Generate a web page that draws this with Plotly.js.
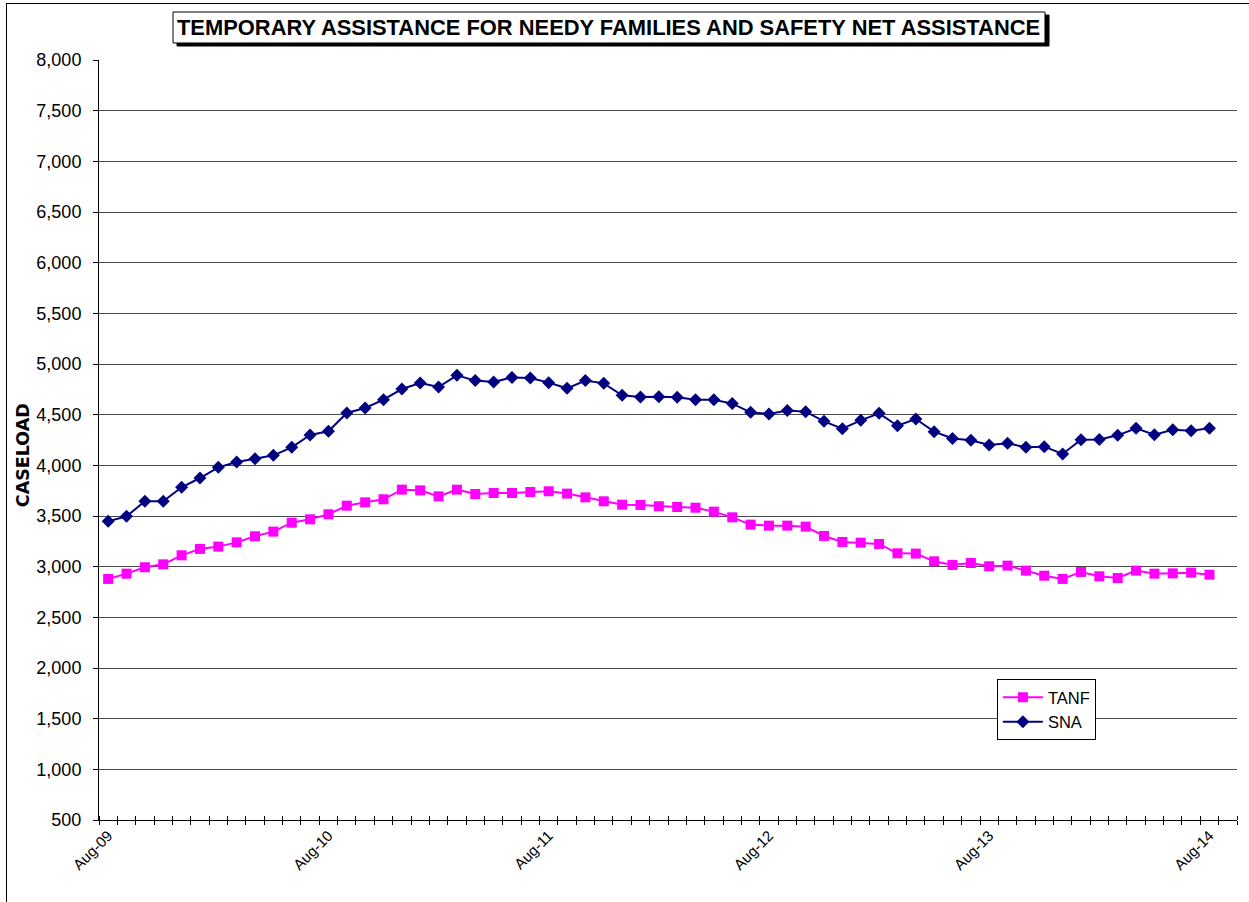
<!DOCTYPE html>
<html>
<head>
<meta charset="utf-8">
<script src="https://cdn.plot.ly/plotly-3.0.1.min.js"></script>
<style>
  html, body { margin: 0; padding: 0; background: #fff; }
  #chart { position: absolute; left: 0; top: 0; width: 1249px; height: 902px; }
  #frame { position: absolute; left: 6px; top: 3px; width: 1400px; height: 1100px;
           border: 1px solid #000; pointer-events: none; }
</style>
</head>
<body>
<div id="chart"></div>
<div id="frame"></div>
<script>
const months = [
  'Aug-09','Sep-09','Oct-09','Nov-09','Dec-09','Jan-10','Feb-10','Mar-10','Apr-10','May-10','Jun-10','Jul-10',
  'Aug-10','Sep-10','Oct-10','Nov-10','Dec-10','Jan-11','Feb-11','Mar-11','Apr-11','May-11','Jun-11','Jul-11',
  'Aug-11','Sep-11','Oct-11','Nov-11','Dec-11','Jan-12','Feb-12','Mar-12','Apr-12','May-12','Jun-12','Jul-12',
  'Aug-12','Sep-12','Oct-12','Nov-12','Dec-12','Jan-13','Feb-13','Mar-13','Apr-13','May-13','Jun-13','Jul-13',
  'Aug-13','Sep-13','Oct-13','Nov-13','Dec-13','Jan-14','Feb-14','Mar-14','Apr-14','May-14','Jun-14','Jul-14',
  'Aug-14','Sep-14'
];
const tanf = [
  2879, 2931, 2994, 3023, 3112, 3175, 3198, 3240, 3300, 3346, 3434, 3467,
  3517, 3602, 3635, 3665, 3760, 3753, 3694, 3760, 3717, 3727, 3727, 3737,
  3744, 3721, 3684, 3645, 3612, 3609, 3596, 3589, 3582, 3543, 3487, 3415,
  3405, 3405, 3395, 3303, 3244, 3237, 3224, 3132, 3129, 3053, 3017, 3036,
  3004, 3010, 2961, 2911, 2879, 2948, 2905, 2888, 2961, 2931, 2934, 2941,
  2921, null
];
const sna = [
  3447, 3497, 3645, 3645, 3783, 3875, 3980, 4033, 4066, 4099, 4178, 4299,
  4336, 4517, 4566, 4648, 4753, 4812, 4773, 4888, 4836, 4822, 4868, 4862,
  4816, 4760, 4836, 4809, 4691, 4674, 4678, 4671, 4648, 4648, 4609, 4523,
  4507, 4540, 4530, 4434, 4362, 4444, 4513, 4391, 4457, 4332, 4265, 4247,
  4201, 4217, 4178, 4184, 4112, 4253, 4256, 4296, 4365, 4303, 4352, 4342,
  4365, null
];
const labelEvery = 12;
const titleText = 'TEMPORARY ASSISTANCE FOR NEEDY FAMILIES AND SAFETY NET ASSISTANCE';
const yTitleText = 'CASELOAD';

const xIdx = months.map((m, i) => i);
const tickIdx = xIdx.filter(i => i % labelEvery === 0 && i < months.length - 1);
const FONT = 'Arial, "Liberation Sans", Helvetica, sans-serif';

const data = [
  {
    x: xIdx, y: tanf, name: 'TANF', type: 'scatter', mode: 'lines+markers',
    line: { color: '#FF00FF', width: 2 },
    marker: { symbol: 'square', size: 10, color: '#FF00FF' }
  },
  {
    x: xIdx, y: sna, name: 'SNA', type: 'scatter', mode: 'lines+markers',
    line: { color: '#000080', width: 2 },
    marker: { symbol: 'diamond', size: 10, color: '#000080' }
  },
  { x: [], y: [], xaxis: 'x2', showlegend: false, hoverinfo: 'skip', type: 'scatter' }
];

const layout = {
  width: 1249, height: 902,
  margin: { l: 99, r: 12, t: 60, b: 82 },
  paper_bgcolor: '#fff', plot_bgcolor: '#fff',
  font: { family: FONT, color: '#000' },
  showlegend: true,
  legend: {
    x: 0.789, y: 0.1855, xanchor: 'left', yanchor: 'top',
    bgcolor: '#fff', bordercolor: '#000', borderwidth: 1,
    font: { family: FONT, size: 16.5, color: '#000' },
    itemwidth: 40
  },
  xaxis: {
    type: 'linear', range: [-0.5, months.length - 0.5],
    tickmode: 'array', tickvals: tickIdx, ticktext: tickIdx.map(i => months[i]),
    tickangle: -45, ticks: '', showgrid: false, zeroline: false,
    showline: true, linecolor: '#000', linewidth: 1,
    tickfont: { family: FONT, size: 15, color: '#000' },
    minor: { tickmode: 'linear', tick0: -0.5, dtick: 1, ticks: 'outside', ticklen: 4,
             tickcolor: '#000', tickwidth: 1, showgrid: false }
  },
  xaxis2: {
    type: 'linear', range: [-0.5, months.length - 0.5], overlaying: 'x', anchor: 'y',
    showticklabels: false, ticks: '', showgrid: false, zeroline: false, showline: false,
    minor: { tickmode: 'linear', tick0: -0.5, dtick: 1, ticks: 'inside', ticklen: 4,
             tickcolor: '#000', tickwidth: 1, showgrid: false }
  },
  yaxis: {
    range: [500, 8000], dtick: 500, tick0: 500, tickformat: ',d',
    ticks: 'outside', ticklen: 5, tickcolor: '#000',
    showgrid: true, gridcolor: '#4a4a4a', gridwidth: 1, zeroline: false,
    showline: true, linecolor: '#000', linewidth: 1,
    tickfont: { family: FONT, size: 18, color: '#000' },
    ticklabelstandoff: 8
  },
  shapes: [
    { type: 'rect', xref: 'paper', yref: 'paper', layer: 'above',
      x0: 0.06854, x1: 0.83480, y0: 1.01842, y1: 1.05921,
      fillcolor: '#000', line: { color: '#000', width: 1 } },
    { type: 'rect', xref: 'paper', yref: 'paper', layer: 'above',
      x0: 0.06503, x1: 0.83128, y0: 1.02237, y1: 1.06316,
      fillcolor: '#fff', line: { color: '#000', width: 1 } }
  ],
  annotations: [
    {
      text: '<b>' + titleText + '</b>', xref: 'paper', yref: 'paper',
      x: 0.44815, y: 1.04276, xanchor: 'center', yanchor: 'middle', showarrow: false,
      font: { family: FONT, size: 21.9, color: '#000' }
    },
    {
      text: '<b>' + yTitleText + '</b>', xref: 'paper', yref: 'paper',
      x: -0.0668, y: 0.48, xanchor: 'center', yanchor: 'middle', showarrow: false,
      textangle: -90,
      font: { family: '"DejaVu Sans", Arial, sans-serif', size: 17.5, color: '#000' }
    }
  ]
};

Plotly.newPlot('chart', data, layout, { displayModeBar: false, staticPlot: true });
</script>
</body>
</html>
